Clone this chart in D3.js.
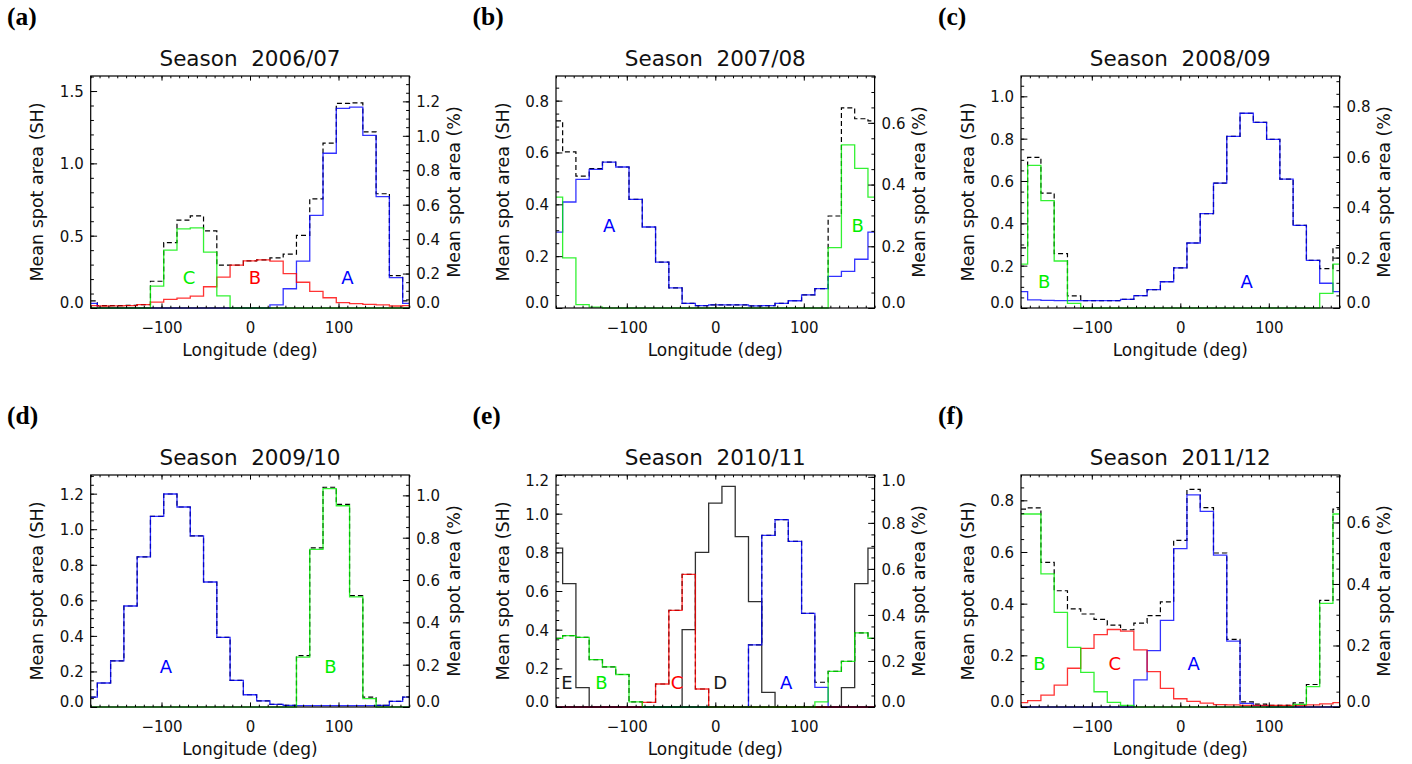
<!DOCTYPE html>
<html><head><meta charset="utf-8">
<script src="https://cdn.jsdelivr.net/npm/d3@7"></script>
<style>
body{margin:0;background:#fff}
svg{display:block}
text{font-family:"DejaVu Sans",sans-serif;fill:#111}
text.letter{font-family:"Liberation Serif","Times New Roman",serif;font-weight:bold;fill:#000}
</style>
</head><body>
<svg id="chart" width="1412" height="764"></svg>
<script>
// ---------------- data ----------------
const lon = [-180,-165,-150,-135,-120,-105,-90,-75,-60,-45,-30,-15,0,15,30,45,60,75,90,105,120,135,150,165,180];
const xTickLabels = [-100, 0, 100];
const panelLetters = ["(a)","(b)","(c)","(d)","(e)","(f)"];
const seasonTitles = ["Season  2006/07","Season  2007/08","Season  2008/09","Season  2009/10","Season  2010/11","Season  2011/12"];
const leftTitle = "Mean spot area (SH)";
const rightTitle = "Mean spot area (%)";
const xTitle = "Longitude (deg)";

// (a) 2006/07
const a_A = [0.032,0,0,0,0,0,0,0,0,0,0,0,0,0,0.022,0.133,0.324,0.64,1.07,1.38,1.389,1.194,0.77,0.21,0.032];
const a_B = [0.016,0.014,0.015,0.017,0.024,0.04,0.059,0.068,0.082,0.147,0.213,0.296,0.326,0.333,0.324,0.238,0.178,0.115,0.071,0.037,0.03,0.025,0.021,0.014,0.016];
const a_C = [0,0,0,0,0,0.151,0.40,0.547,0.554,0.386,0.084,0,0,0,0,0,0,0,0,0,0,0,0,0,0];
const a_T = [0.049,0.016,0.017,0.018,0.024,0.185,0.452,0.607,0.637,0.533,0.297,0.296,0.326,0.333,0.346,0.372,0.502,0.755,1.14,1.415,1.418,1.218,0.79,0.224,0.049];
// (b) 2007/08
const b_A = [0.293,0.409,0.496,0.535,0.563,0.544,0.419,0.3125,0.177,0.078,0.018,0.009,0.012,0.012,0.012,0.008,0.009,0.018,0.028,0.051,0.075,0.122,0.141,0.188,0.293];
const b_B = [0.428,0.193,0.013,0.003,0,0,0,0,0,0,0,0,0,0,0,0,0,0,0,0,0,0.233,0.629,0.539,0.428];
const b_T = [0.722,0.602,0.509,0.538,0.563,0.544,0.419,0.3125,0.177,0.078,0.018,0.009,0.012,0.012,0.012,0.008,0.009,0.018,0.028,0.051,0.075,0.355,0.772,0.73,0.722];
// (c) 2008/09
const c_A = [0.077,0.038,0.036,0.035,0.035,0.035,0.035,0.035,0.041,0.058,0.087,0.124,0.19,0.307,0.446,0.59,0.811,0.92,0.877,0.797,0.609,0.39,0.225,0.117,0.077];
const c_B = [0.207,0.674,0.507,0.222,0.022,0,0,0,0,0,0,0,0,0,0,0,0,0,0,0,0,0,0,0.069,0.207];
const c_T = [0.284,0.712,0.543,0.257,0.057,0.035,0.035,0.035,0.041,0.058,0.087,0.124,0.19,0.307,0.446,0.59,0.811,0.92,0.877,0.797,0.609,0.39,0.225,0.186,0.284];
// (d) 2009/10
const d_A = [0.056,0.135,0.259,0.568,0.845,1.072,1.198,1.125,0.963,0.703,0.392,0.15,0.069,0.034,0.015,0.009,0.008,0.008,0.008,0.008,0.008,0.008,0.009,0.032,0.056];
const d_B = [0,0,0,0,0,0,0,0,0,0,0,0,0,0,0,0,0.281,0.887,1.228,1.132,0.619,0.047,0,0,0];
const d_T = [0.056,0.135,0.259,0.568,0.845,1.072,1.198,1.125,0.963,0.703,0.392,0.15,0.069,0.034,0.015,0.009,0.289,0.895,1.236,1.14,0.627,0.055,0.009,0.032,0.056];
// (e) 2010/11
const e_A = [0,0,0,0,0,0,0,0,0,0,0,0,0,0,0,0.321,0.888,0.969,0.857,0.484,0.102,0,0,0,0];
const e_B = [0.355,0.369,0.36,0.245,0.208,0.168,0.027,0,0,0,0,0,0,0,0,0,0,0,0,0,0.026,0.184,0.236,0.383,0.355];
const e_C = [0,0,0,0,0,0,0,0.024,0.119,0.50,0.686,0.093,0,0,0,0,0,0,0,0,0,0,0,0,0];
const e_D = [0,0,0,0,0,0,0,0,0,0,0.40,0.80,1.055,1.141,0.881,0.545,0.076,0,0,0,0,0,0,0,0];
const e_E = [0.822,0.638,0.10,0,0,0,0,0,0,0,0,0,0,0,0,0,0,0,0,0,0,0,0.10,0.638,0.822];
const e_T = [0.355,0.369,0.36,0.245,0.208,0.168,0.027,0.024,0.119,0.50,0.686,0.093,0,0,0,0.321,0.888,0.969,0.857,0.484,0.128,0.184,0.236,0.383,0.355];
// (f) 2011/12
const f_A = [0,0,0,0,0,0,0,0,0,0.105,0.218,0.335,0.613,0.821,0.757,0.588,0.255,0.014,0.005,0,0,0,0,0,0];
const f_B = [0.747,0.747,0.515,0.366,0.231,0.134,0.059,0.018,0.006,0,0,0,0,0,0,0,0,0,0,0,0,0.01,0.079,0.401,0.747];
const f_C = [0.017,0.025,0.046,0.085,0.15,0.227,0.28,0.30,0.294,0.221,0.137,0.072,0.032,0.022,0.015,0.009,0.008,0.006,0.006,0.006,0.006,0.006,0.008,0.012,0.017];
const f_T = [0.766,0.771,0.56,0.45,0.38,0.36,0.339,0.317,0.299,0.325,0.354,0.407,0.645,0.842,0.772,0.596,0.262,0.02,0.011,0.006,0.006,0.016,0.087,0.413,0.766];

// region labels (text, longitude, value, colour key)
const a_labels = [["C",-69,0.21,"g"],["B",5.5,0.21,"r"],["A",110,0.21,"b"]];
const b_labels = [["A",-120,0.319,"b"],["B",161,0.32,"g"]];
const c_labels = [["B",-153.7,0.126,"g"],["A",75,0.126,"b"]];
const d_labels = [["A",-95,0.229,"b"],["B",91,0.229,"g"]];
const e_labels = [["E",-167.6,0.128,"k"],["B",-128.8,0.128,"g"],["C",-43.3,0.128,"r"],["D",5.6,0.128,"k"],["A",80,0.128,"b"]];
const f_labels = [["B",-159.3,0.169,"g"],["C",-74,0.169,"r"],["A",15,0.169,"b"]];

// ---------------- config ----------------
const COLORS = {b:"#0000ff", g:"#00ee00", r:"#ff0000", k:"#1a1a1a"};
const RATIO = 0.84; // % per SH (right axis)
const panels = [
  {ymax:1.604, lstep:0.5, lminor:5, series:[[a_A,"b"],[a_B,"r"],[a_C,"g"]], total:a_T, labels:a_labels},
  {ymax:0.895, lstep:0.2, lminor:4, series:[[b_A,"b"],[b_B,"g"]], total:b_T, labels:b_labels},
  {ymax:1.096, lstep:0.2, lminor:4, series:[[c_A,"b"],[c_B,"g"]], total:c_T, labels:c_labels},
  {ymax:1.305, lstep:0.2, lminor:4, series:[[d_A,"b"],[d_B,"g"]], total:d_T, labels:d_labels},
  {ymax:1.2,   lstep:0.2, lminor:4, series:[[e_E,"k"],[e_D,"k"],[e_A,"b"],[e_C,"r"],[e_B,"g"]], total:e_T, labels:e_labels},
  {ymax:0.898, lstep:0.2, lminor:4, series:[[f_A,"b"],[f_C,"r"],[f_B,"g"]], total:f_T, labels:f_labels}
];

const colX = [90.7, 556, 1021];
const rowY = [76, 475];
const W = 318.6, H = 232;
const letterX = [7, 472.5, 938];
const svg = d3.select("#chart");

function fmtX(d){ return d < 0 ? "\u2212" + Math.abs(d) : String(d); }

function styleAxis(sel, fs){
  sel.select(".domain").remove();
  sel.attr("font-family", null).attr("font-size", fs);
  sel.selectAll("line").attr("stroke", "#000").attr("stroke-width", 1);
}

panels.forEach((p, i) => {
  const x0 = colX[i % 3], y0 = rowY[Math.floor(i / 3)];
  const g = svg.append("g").attr("transform", `translate(${x0},${y0})`);
  const x = d3.scaleLinear().domain([-180, 180]).range([0, W]);
  const y = d3.scaleLinear().domain([0, p.ymax]).range([H, 0]);
  const yr = d3.scaleLinear().domain([0, p.ymax * RATIO]).range([H, 0]);

  const line = d3.line().x((d, k) => x(lon[k])).y(d => y(d)).curve(d3.curveStep);

  // total (dashed)
  g.append("path").datum(p.total).attr("d", line)
    .attr("fill", "none").attr("stroke", "#000").attr("stroke-width", 1.2)
    .attr("stroke-dasharray", "5,3");
  // components
  p.series.forEach(([vals, c]) => {
    g.append("path").datum(vals).attr("d", line)
      .attr("fill", "none").attr("stroke", COLORS[c]).attr("stroke-width", 1.3)
      .attr("stroke-opacity", c === "k" ? 0.9 : 0.8);
  });

  // x axes
  const minorX = d3.range(-180, 181, 10);
  g.append("g").attr("transform", `translate(0,${H})`)
    .call(d3.axisBottom(x).tickValues(minorX).tickSize(-2.3).tickSizeOuter(0).tickFormat(""))
    .call(s => styleAxis(s, 15));
  g.append("g").attr("transform", `translate(0,${H})`)
    .call(d3.axisBottom(x).tickValues(xTickLabels).tickSize(-4.6).tickSizeOuter(0).tickPadding(14.8).tickFormat(fmtX))
    .call(s => styleAxis(s, 15));
  g.append("g")
    .call(d3.axisTop(x).tickValues(minorX).tickSize(-2.3).tickSizeOuter(0).tickFormat(""))
    .call(s => styleAxis(s, 15));
  g.append("g")
    .call(d3.axisTop(x).tickValues(xTickLabels).tickSize(-4.6).tickSizeOuter(0).tickFormat(""))
    .call(s => styleAxis(s, 15));

  // left axis
  const eps = 1e-9;
  const lMaj = d3.range(0, p.ymax + eps, p.lstep);
  const lMin = d3.range(0, p.ymax + eps, p.lstep / p.lminor);
  g.append("g").call(d3.axisLeft(y).tickValues(lMin).tickSize(-3.2).tickSizeOuter(0).tickFormat(""))
    .call(s => styleAxis(s, 15));
  const la = g.append("g").call(d3.axisLeft(y).tickValues(lMaj).tickSize(-6.4).tickSizeOuter(0).tickPadding(7).tickFormat(d3.format(".1f")))
    .call(s => styleAxis(s, 15));
  la.selectAll("text").attr("dy", "0.36em").each(function(d){
    const py = y(d), cy = Math.max(5.5, Math.min(H - 5.5, py));
    d3.select(this).attr("y", cy - py);
  });

  // right axis
  const rmax = p.ymax * RATIO;
  const rMaj = d3.range(0, rmax + eps, 0.2);
  const rMin = d3.range(0, rmax + eps, 0.05);
  g.append("g").attr("transform", `translate(${W},0)`)
    .call(d3.axisRight(yr).tickValues(rMin).tickSize(-3.2).tickSizeOuter(0).tickFormat(""))
    .call(s => styleAxis(s, 15));
  const ra = g.append("g").attr("transform", `translate(${W},0)`)
    .call(d3.axisRight(yr).tickValues(rMaj).tickSize(-6.4).tickSizeOuter(0).tickPadding(7).tickFormat(d3.format(".1f")))
    .call(s => styleAxis(s, 15));
  ra.selectAll("text").attr("dy", "0.36em").each(function(d){
    const py = yr(d), cy = Math.max(5.5, Math.min(H - 5.5, py));
    d3.select(this).attr("y", cy - py);
  });

  // frame
  g.append("rect").attr("x", 0).attr("y", 0).attr("width", W).attr("height", H)
    .attr("fill", "none").attr("stroke", "#000").attr("stroke-width", 1.2);

  // region labels
  p.labels.forEach(([t, lo, v, c]) => {
    g.append("text").attr("x", x(lo)).attr("y", y(v)).attr("dy", "0.365em")
      .attr("text-anchor", "middle").attr("font-size", 18)
      .style("fill", COLORS[c]).text(t);
  });

  // titles
  g.append("text").attr("x", W / 2).attr("y", -9.7).attr("text-anchor", "middle")
    .attr("font-size", 21.5).attr("xml:space", "preserve").style("white-space", "pre")
    .text(seasonTitles[i]);
  g.append("text").attr("x", W / 2).attr("y", H + 47.8).attr("text-anchor", "middle")
    .attr("font-size", 17).text(xTitle);
  g.append("text").attr("transform", `translate(-47.4,${H / 2}) rotate(-90)`)
    .attr("text-anchor", "middle").attr("font-size", 17.5).text(leftTitle);
  g.append("text").attr("transform", `translate(${W + 50.7},${H / 2}) rotate(-90)`)
    .attr("text-anchor", "middle").attr("font-size", 17.5).text(rightTitle);

  // panel letter
  svg.append("text").attr("class", "letter").attr("x", letterX[i % 3]).attr("y", y0 - 51)
    .attr("font-size", 25.5).text(panelLetters[i]);
});
</script>
</body></html>
